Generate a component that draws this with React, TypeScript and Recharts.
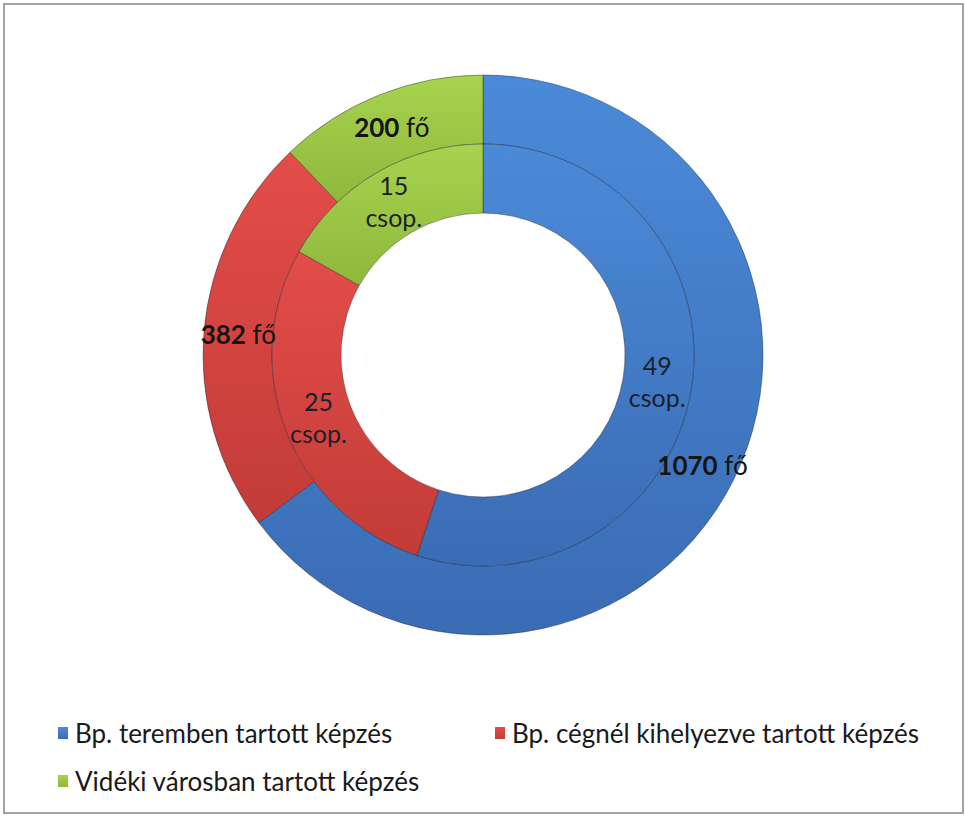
import React from "react";
import { PieChart, Pie, Cell, Legend } from "recharts";

const categories = [
  "Bp. teremben tartott képzés",
  "Bp. cégnél kihelyezve tartott képzés",
  "Vidéki városban tartott képzés",
];
const participants = [1070, 382, 200];
const groups = [49, 25, 15];
const participantUnit = "fő";
const groupUnit = "csop.";

const colors = [
  { light: "#4b8ad9", dark: "#3a6cb4" },
  { light: "#e44d49", dark: "#c23b37" },
  { light: "#a7d34e", dark: "#8fb83c" },
];

const FONT = "Lato, 'Open Sans', sans-serif";
const RAD = Math.PI / 180;

const outerData = categories.map((name, i) => ({ name, value: participants[i] }));
const innerData = categories.map((name, i) => ({ name, value: groups[i] }));

function outerLabel(props: any) {
  const { cx, cy, midAngle, innerRadius, outerRadius, value } = props;
  const r = (innerRadius + outerRadius) / 2;
  const x = cx + r * Math.cos(-midAngle * RAD);
  const y = cy + r * Math.sin(-midAngle * RAD);
  return (
    <text
      x={x}
      y={y}
      textAnchor="middle"
      dominantBaseline="central"
      fontFamily={FONT}
      fontSize={26}
      fill="#151515"
    >
      <tspan fontWeight="bold">{value}</tspan>
      <tspan> {participantUnit}</tspan>
    </text>
  );
}

function innerLabel(props: any) {
  const { cx, cy, midAngle, innerRadius, outerRadius, value } = props;
  const r = (innerRadius + outerRadius) / 2;
  const x = cx + r * Math.cos(-midAngle * RAD);
  const y = cy + r * Math.sin(-midAngle * RAD);
  return (
    <text
      x={x}
      textAnchor="middle"
      fontFamily={FONT}
      fontSize={25}
      fill="#1c1f2a"
    >
      <tspan x={x} y={y - 18} dominantBaseline="central">
        {value}
      </tspan>
      <tspan x={x} y={y + 14} dominantBaseline="central">
        {groupUnit}
      </tspan>
    </text>
  );
}

function LegendContent() {
  return (
    <div
      style={{
        display: "grid",
        gridTemplateColumns: "437px auto",
        rowGap: 20,
        paddingLeft: 58,
        fontFamily: FONT,
        fontSize: 26,
        color: "#1a1a1a",
        textAlign: "left",
      }}
    >
      {categories.map((c, i) => (
        <div key={c} style={{ display: "flex", alignItems: "center", height: 28 }}>
          <span
            style={{
              display: "inline-block",
              width: 10,
              height: 12,
              marginRight: 7,
              background: `linear-gradient(${colors[i].light}, ${colors[i].dark})`,
            }}
          />
          <span>{c}</span>
        </div>
      ))}
    </div>
  );
}

export default function App() {
  return (
    <div
      style={{
        position: "absolute",
        left: 0,
        top: 0,
        width: 965,
        height: 816,
        background: "#fff",
      }}
    >
      <div
        style={{
          position: "absolute",
          left: 3,
          top: 3,
          width: 957,
          height: 807,
          border: "2px solid #a3a3a3",
        }}
      />
      <PieChart
        width={965}
        height={816}
        margin={{ top: 0, right: 0, bottom: 0, left: 0 }}
        style={{ position: "absolute", left: 0, top: 0 }}
      >
        <defs>
          {colors.map((c, i) => (
            <linearGradient key={i} id={`g${i}`} x1="0" y1="0" x2="0" y2="1">
              <stop offset="0%" stopColor={c.light} />
              <stop offset="100%" stopColor={c.dark} />
            </linearGradient>
          ))}
        </defs>
        <Pie
          data={outerData}
          dataKey="value"
          cx={483}
          cy={355}
          innerRadius={211}
          outerRadius={280}
          startAngle={90}
          endAngle={-270}
          stroke="rgba(25,30,45,0.4)"
          strokeWidth={1}
          label={outerLabel}
          labelLine={false}
          isAnimationActive={false}
        >
          {outerData.map((d, i) => (
            <Cell key={d.name} fill={`url(#g${i})`} />
          ))}
        </Pie>
        <Pie
          data={innerData}
          dataKey="value"
          cx={483}
          cy={355}
          innerRadius={142}
          outerRadius={211}
          startAngle={90}
          endAngle={-270}
          stroke="rgba(25,30,45,0.4)"
          strokeWidth={1}
          label={innerLabel}
          labelLine={false}
          isAnimationActive={false}
        >
          {innerData.map((d, i) => (
            <Cell key={d.name} fill={`url(#g${i})`} />
          ))}
        </Pie>
        <Legend
          content={<LegendContent />}
          wrapperStyle={{ position: "absolute", left: 0, top: 719, width: 965 }}
        />
      </PieChart>
    </div>
  );
}
